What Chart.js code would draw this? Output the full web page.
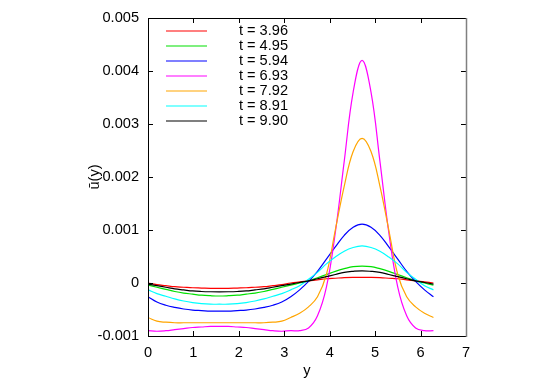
<!DOCTYPE html>
<html>
<head>
<meta charset="utf-8">
<script src="https://cdn.jsdelivr.net/npm/chart.js@4.4.1/dist/chart.umd.min.js"></script>
<style>
  html, body { margin: 0; padding: 0; background: #fff; }
  #wrap { width: 545px; height: 382px; }
</style>
</head>
<body>
<div id="wrap"><canvas id="uChart" width="545" height="382"></canvas></div>
<script>
// y positions (0 .. 2*pi)
const ys = [0, 0.196, 0.393, 0.589, 0.785, 0.982, 1.178, 1.374, 1.571, 1.767, 1.963, 2.160, 2.356, 2.553, 2.749, 2.945,
    3.142, 3.338, 3.534, 3.731, 3.927, 4.123, 4.320, 4.516, 4.712, 4.909, 5.105, 5.301, 5.498, 5.694, 5.890, 6.087, 6.283];

const t396 = [0, -0.00003, -0.00005, -0.00007, -0.00008, -0.00009, -0.000095, -0.0001, -0.0001, -0.0001, -0.000095, -0.00009, -0.00008, -0.00007, -0.00005, -0.00003,
    0, 0.00002, 0.00004, 0.00006, 0.00008, 0.00009, 0.0001, 0.000105, 0.000107, 0.000105, 0.0001, 0.00009, 0.00008, 0.00006, 0.00004, 0.00002, 0];
const t495 = [-0.00004, -0.00008, -0.00012, -0.00016, -0.00019, -0.00021, -0.00023, -0.00024, -0.000245, -0.00024, -0.00023, -0.00021, -0.00019, -0.00016, -0.00012, -0.00008,
    -0.00004, 0, 0.00004, 0.0001, 0.00016, 0.00022, 0.00027, 0.00031, 0.00032, 0.00031, 0.00027, 0.00022, 0.00016, 0.0001, 0.00004, 0, -0.00004];
const t594 = [-0.00026, -0.00036, -0.00042, -0.00046, -0.00049, -0.00051, -0.00052, -0.00053, -0.00053, -0.00053, -0.00052, -0.00051, -0.00049, -0.00046, -0.00042, -0.00036,
    -0.00026, -0.00013, 0.00003, 0.00022, 0.00045, 0.00068, 0.0009, 0.00105, 0.00111, 0.00105, 0.0009, 0.00068, 0.00045, 0.00022, 0.00003, -0.00013, -0.00026];
const t693 = [-0.0009, -0.00091, -0.0009, -0.00088, -0.00086, -0.00084, -0.00083, -0.00082, -0.00082, -0.00082, -0.00083, -0.00084, -0.00086, -0.00088, -0.0009, -0.00091,
    -0.0009, -0.0009, -0.00085, -0.00062, -0.00008, 0.00095, 0.0023, 0.0036, 0.0042, 0.0036, 0.0023, 0.00095, -0.00008, -0.00062, -0.00085, -0.0009, -0.0009];
const t792 = [-0.00065, -0.00072, -0.00074, -0.00075, -0.00075, -0.00075, -0.00075, -0.00075, -0.00075, -0.00075, -0.00075, -0.00075, -0.00075, -0.00075, -0.00074, -0.00072,
    -0.00065, -0.00057, -0.00045, -0.00026, 0.00016, 0.001, 0.00183, 0.00248, 0.00273, 0.00248, 0.00183, 0.001, 0.00016, -0.00026, -0.00045, -0.00057, -0.00065];
const t891 = [-0.00013, -0.0002, -0.00025, -0.0003, -0.00034, -0.00037, -0.00039, -0.0004, -0.0004, -0.0004, -0.00039, -0.00037, -0.00034, -0.0003, -0.00025, -0.0002,
    -0.00013, -0.00005, 0.00007, 0.0002, 0.00036, 0.00049, 0.0006, 0.00067, 0.0007, 0.00067, 0.0006, 0.00049, 0.00036, 0.0002, 0.00007, -0.00005, -0.00013];
const t990 = [-0.00002, -0.00005, -0.00008, -0.00011, -0.00013, -0.00015, -0.00016, -0.000165, -0.000167, -0.000165, -0.00016, -0.00015, -0.00013, -0.00011, -0.00008, -0.00005,
    -0.00002, 0.00001, 0.00004, 0.00008, 0.00012, 0.00016, 0.0002, 0.00022, 0.00023, 0.00022, 0.0002, 0.00016, 0.00012, 0.00008, 0.00004, 0.00001, -0.00002];

const seriesLabels = ["t = 3.96", "t = 4.95", "t = 5.94", "t = 6.93", "t = 7.92", "t = 8.91", "t = 9.90"];
const seriesValues = [t396, t495, t594, t693, t792, t891, t990];
const seriesColors = ["#ff0000", "#00e000", "#0000ff", "#ff00ff", "#ffa500", "#00ffff", "#000000"];

const xTicks = [0, 1, 2, 3, 4, 5, 6, 7];
const yTicks = [-0.001, 0, 0.001, 0.002, 0.003, 0.004, 0.005];

const FONT = "'Liberation Sans', Arial, sans-serif";
const FSIZE = 14.6;

// gnuplot-like frame: border + inward ticks on all four sides, plus key inside the plot
const framePlugin = {
    id: "frame",
    afterDatasetsDraw(chart) {
        const { ctx, chartArea: a, scales } = chart;
        const len = 5;
        ctx.save();
        ctx.lineWidth = 1;
        ctx.strokeStyle = "#000";
        ctx.beginPath();
        xTicks.forEach((v) => {
            const px = Math.round(scales.x.getPixelForValue(v)) + 0.5;
            ctx.moveTo(px, a.bottom); ctx.lineTo(px, a.bottom - len);
            ctx.moveTo(px, a.top); ctx.lineTo(px, a.top + len);
        });
        yTicks.forEach((v) => {
            const py = Math.round(scales.y.getPixelForValue(v)) + 0.5;
            ctx.moveTo(a.left, py); ctx.lineTo(a.left + len, py);
            ctx.moveTo(a.right, py); ctx.lineTo(a.right - len, py);
        });
        ctx.stroke();
        ctx.beginPath();
        ctx.moveTo(Math.round(a.right) + 0.5, Math.round(a.top) + 0.5);
        ctx.lineTo(Math.round(a.left) + 0.5, Math.round(a.top) + 0.5);
        ctx.lineTo(Math.round(a.left) + 0.5, Math.round(a.bottom) + 0.5);
        ctx.lineTo(Math.round(a.right) + 0.5, Math.round(a.bottom) + 0.5);
        ctx.stroke();
        ctx.strokeStyle = "#808080";
        ctx.lineWidth = 1.5;
        ctx.beginPath();
        ctx.moveTo(Math.round(a.right) + 0.5, Math.round(a.top));
        ctx.lineTo(Math.round(a.right) + 0.5, Math.round(a.bottom) + 1);
        ctx.stroke();

        // key
        ctx.font = FSIZE + "px " + FONT;
        ctx.textAlign = "right";
        ctx.textBaseline = "middle";
        seriesLabels.forEach((lab, i) => {
            const y = a.top + 13 + i * 15;
            ctx.strokeStyle = seriesColors[i];
            ctx.lineWidth = 1.2;
            ctx.beginPath();
            ctx.moveTo(a.left + 18, y);
            ctx.lineTo(a.left + 59, y);
            ctx.stroke();
            ctx.fillStyle = "#000";
            ctx.fillText(lab, a.left + 140, y);
        });
        ctx.restore();
    },
};

const ctx = document.getElementById("uChart").getContext("2d");
new Chart(ctx, {
    type: "line",
    data: {
        datasets: seriesValues.map((vals, i) => ({
            label: seriesLabels[i],
            data: vals.map((v, j) => ({ x: ys[j], y: v })),
            borderColor: seriesColors[i],
            borderWidth: 1.2,
            pointRadius: 0,
            fill: false,
            tension: 0.4,
            order: seriesValues.length - i,
        })),
    },
    options: {
        responsive: false,
        animation: false,
        events: [],
        layout: { padding: { left: 84, top: 18, right: 79, bottom: 0 } },
        plugins: { legend: { display: false }, tooltip: { enabled: false } },
        scales: {
            x: {
                type: "linear",
                min: 0,
                max: 7,
                afterBuildTicks: (s) => { s.ticks = xTicks.map((v) => ({ value: v })); },
                afterFit: (s) => { s.height = 46; },
                grid: { display: false, drawTicks: false },
                border: { display: false },
                ticks: { color: "#000", padding: 8, maxRotation: 0, font: { family: FONT, size: FSIZE } },
                title: { display: true, text: "y", color: "#000", padding: { top: 0, bottom: 2 }, font: { family: FONT, size: FSIZE } },
            },
            y: {
                type: "linear",
                min: -0.001,
                max: 0.005,
                afterBuildTicks: (s) => { s.ticks = yTicks.map((v) => ({ value: v })); },
                afterFit: (s) => { s.width = 64; },
                grid: { display: false, drawTicks: false },
                border: { display: false },
                ticks: {
                    color: "#000",
                    padding: 9,
                    font: { family: FONT, size: FSIZE },
                    callback: (v) => (v === 0 ? "0" : String(Number(v.toFixed(3)))),
                },
                title: { display: true, text: "ū(y)", color: "#000", padding: { top: 2, bottom: 0 }, font: { family: FONT, size: FSIZE } },
            },
        },
    },
    plugins: [framePlugin],
});
</script>
</body>
</html>
